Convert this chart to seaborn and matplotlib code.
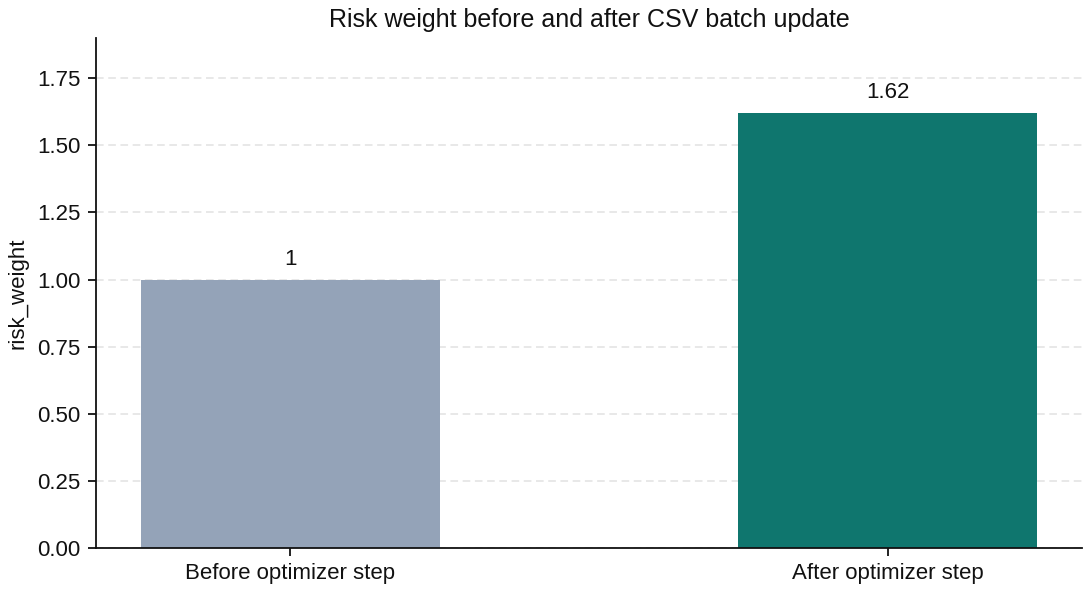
import pandas as pd
import matplotlib
matplotlib.use("Agg")
import matplotlib.pyplot as plt
import seaborn as sns

stages = ["Before optimizer step", "After optimizer step"]
risk_weight = [1.0, 1.62]
bar_colors = ["#94a3b8", "#0f766e"]

df = pd.DataFrame({"stage": stages, "risk_weight": risk_weight})

sns.set_theme(style="ticks")
plt.rcParams["font.family"] = ["Liberation Sans", "DejaVu Sans"]

fig, ax = plt.subplots(figsize=(10.88, 5.92), dpi=100)
fig.subplots_adjust(left=0.0882, right=0.9945, top=0.9358, bottom=0.0743)

sns.barplot(data=df, x="stage", y="risk_weight", hue="stage", palette=bar_colors,
            width=0.5, legend=False, ax=ax, saturation=1, linewidth=0)

for container in ax.containers:
    ax.bar_label(container, labels=[f"{v:g}" for v in container.datavalues],
                 padding=7, fontsize=16, color="#111111")

ax.set_xlim(-0.325, 1.325)
ax.set_ylim(0, 1.9)
ax.set_yticks([0, 0.25, 0.5, 0.75, 1.0, 1.25, 1.5, 1.75])
ax.yaxis.grid(True, linestyle=(0, (5, 3)), color="#e2e2e2", linewidth=1.1)
ax.set_axisbelow(True)
sns.despine(ax=ax)
for side in ["left", "bottom"]:
    ax.spines[side].set_linewidth(1.3)
    ax.spines[side].set_color("#111111")
ax.tick_params(axis="both", labelsize=16, length=6, width=1.3, pad=5,
               color="#111111", labelcolor="#111111")

ax.set_title("Risk weight before and after CSV batch update", fontsize=18, color="#111111", pad=8)
ax.set_xlabel("")
ax.set_ylabel("risk_weight", fontsize=16, color="#111111", labelpad=6)

plt.savefig("out.png", dpi=100)
plt.close()
